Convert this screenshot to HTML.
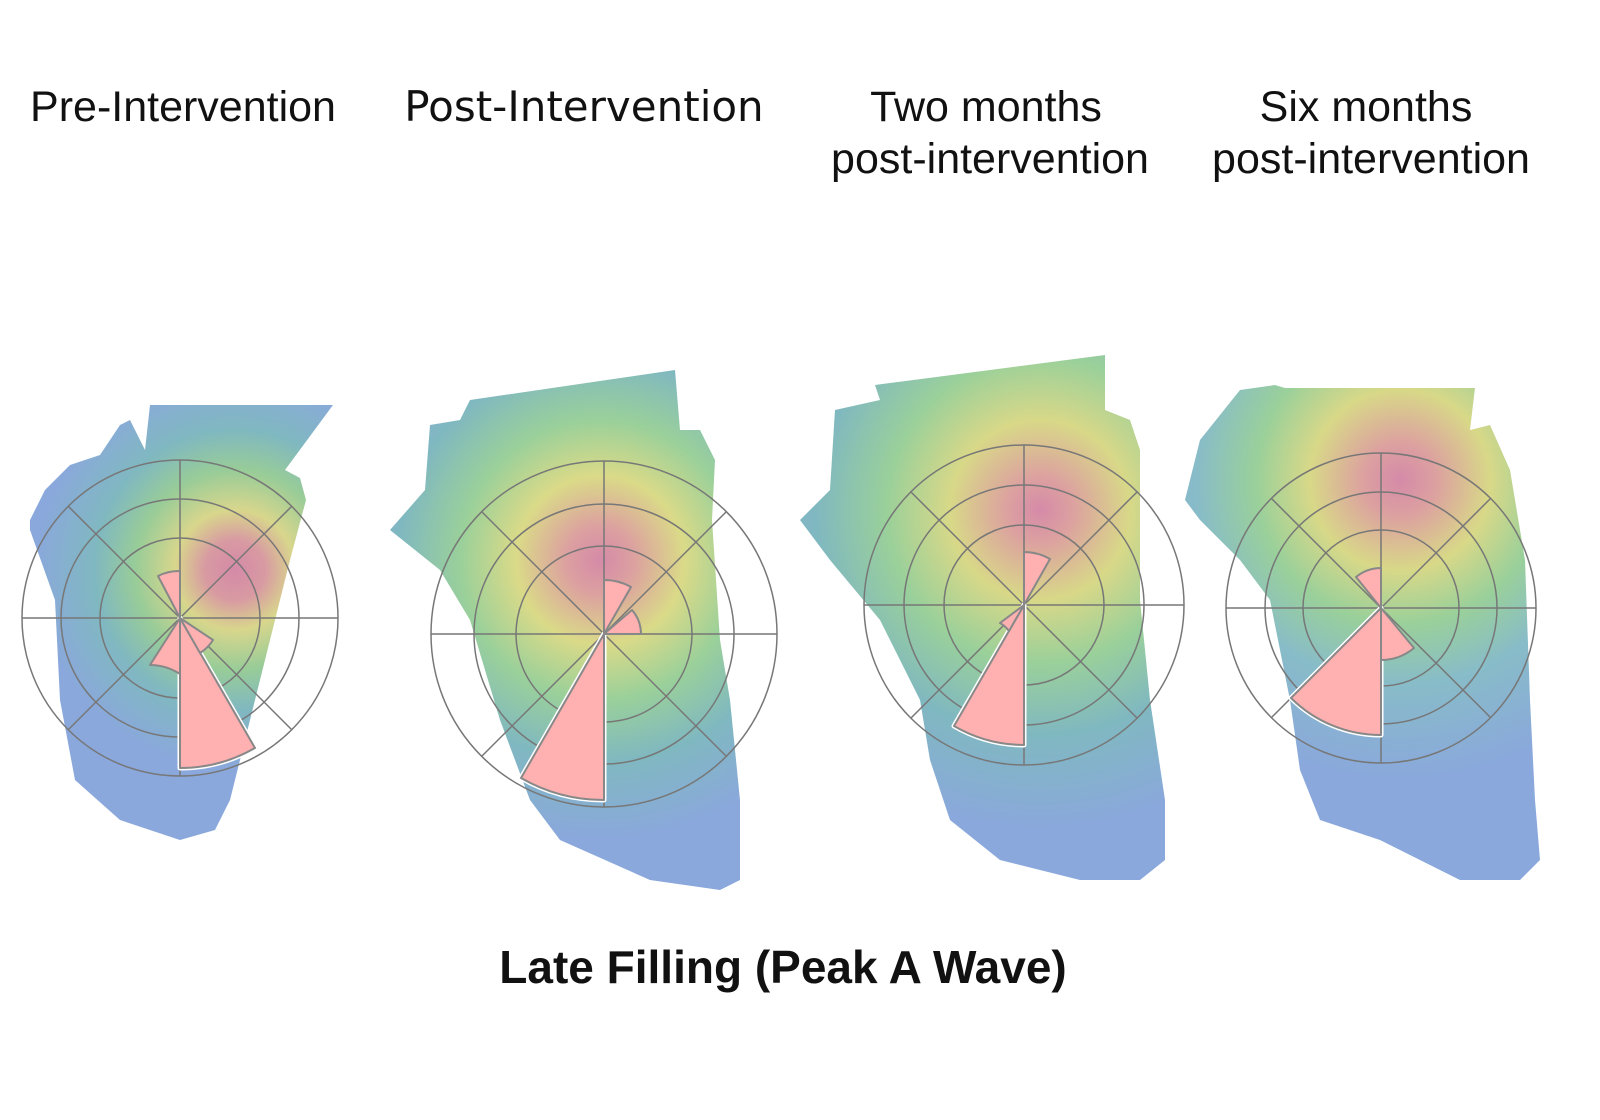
<!DOCTYPE html>
<html><head><meta charset="utf-8"><style>
html,body{margin:0;padding:0;background:#fff;width:1600px;height:1120px;overflow:hidden}
svg{display:block}
text{font-family:"Liberation Sans",sans-serif;fill:#111}
</style></head><body>
<svg width="1600" height="1120" viewBox="0 0 1600 1120" xmlns="http://www.w3.org/2000/svg">
<defs>
<radialGradient id="g1" cx="235" cy="570" r="200" gradientUnits="userSpaceOnUse">
<stop offset="0" stop-color="#d58aa8"/><stop offset="0.15" stop-color="#d89aa2"/><stop offset="0.3" stop-color="#d8d68c"/><stop offset="0.5" stop-color="#98cc98"/><stop offset="0.7" stop-color="#80b8c0"/><stop offset="1" stop-color="#8aa8dc"/></radialGradient>
<radialGradient id="g2" cx="600" cy="560" r="280" gradientUnits="userSpaceOnUse">
<stop offset="0" stop-color="#d58aa8"/><stop offset="0.12" stop-color="#dca0a0"/><stop offset="0.3" stop-color="#dada88"/><stop offset="0.5" stop-color="#9ad09a"/><stop offset="0.72" stop-color="#80b8c0"/><stop offset="1" stop-color="#8aa8dc"/></radialGradient>
<radialGradient id="g3" cx="1040" cy="510" r="320" gradientUnits="userSpaceOnUse">
<stop offset="0" stop-color="#d58aa8"/><stop offset="0.1" stop-color="#dca0a0"/><stop offset="0.28" stop-color="#d8d888"/><stop offset="0.48" stop-color="#9ad09a"/><stop offset="0.7" stop-color="#80b8c0"/><stop offset="1" stop-color="#8aa8dc"/></radialGradient>
<radialGradient id="g4" cx="1400" cy="480" r="300" gradientUnits="userSpaceOnUse">
<stop offset="0" stop-color="#d58aa8"/><stop offset="0.12" stop-color="#dca0a0"/><stop offset="0.3" stop-color="#d8d888"/><stop offset="0.48" stop-color="#9ad09a"/><stop offset="0.68" stop-color="#88bcc8"/><stop offset="1" stop-color="#8aa8dc"/></radialGradient>
</defs>

<text x="183" y="121" font-size="43" text-anchor="middle">Pre-Intervention</text>
<text x="584" y="121" font-size="42" text-anchor="middle" style="font-family:'DejaVu Sans',sans-serif">Post-Intervention</text>
<text x="986" y="121" font-size="43" text-anchor="middle">Two months</text>
<text x="990" y="173" font-size="43" text-anchor="middle">post-intervention</text>
<text x="1366" y="121" font-size="43" text-anchor="middle">Six months</text>
<text x="1371" y="173" font-size="43" text-anchor="middle">post-intervention</text>
<text x="783" y="983" font-size="46" font-weight="bold" text-anchor="middle">Late Filling (Peak A Wave)</text>

<path fill="url(#g1)" d="M30,520 L45,490 L70,465 L100,455 L120,425 L130,420 L145,450 L150,405 L333,405 L285,470 L300,478 L306,500 L290,560 L270,640 L250,720 L230,800 L215,830 L180,840 L120,820 L75,780 L60,700 L55,600 L30,530 Z"/>
<path fill="url(#g2)" d="M390,530 L425,490 L430,425 L460,420 L470,400 L675,370 L680,430 L700,430 L715,460 L712,520 L720,640 L730,700 L740,800 L740,880 L720,890 L650,880 L560,840 L530,800 L500,720 L470,620 L440,570 Z"/>
<path fill="url(#g3)" d="M800,520 L830,490 L835,410 L880,400 L875,385 L1105,355 L1105,410 L1130,420 L1140,450 L1140,600 L1150,700 L1165,800 L1165,860 L1140,880 L1080,880 L1000,860 L950,820 L930,760 L920,700 L880,620 L830,560 Z"/>
<path fill="url(#g4)" d="M1185,500 L1200,440 L1240,390 L1275,385 L1285,388 L1475,388 L1470,430 L1490,425 L1510,470 L1525,560 L1530,700 L1535,800 L1540,860 L1520,880 L1460,880 L1380,840 L1320,820 L1300,770 L1290,700 L1270,600 L1240,560 L1200,520 Z"/>

<g fill="none" stroke="#777" stroke-width="1.5">
<circle cx="180" cy="618" r="158"/><circle cx="180" cy="618" r="119"/><circle cx="180" cy="618" r="80"/>
<path d="M22,618H338M180,460V776M68,506L292,730M68,730L292,506"/>
<circle cx="604" cy="634" r="173"/><circle cx="604" cy="634" r="130"/><circle cx="604" cy="634" r="88"/>
<path d="M431,634H777M604,461V807M482,512L726,756M482,756L726,512"/>
<circle cx="1024" cy="605" r="160"/><circle cx="1024" cy="605" r="120"/><circle cx="1024" cy="605" r="80"/>
<path d="M864,605H1184M1024,445V765M911,492L1137,718M911,718L1137,492"/>
<circle cx="1381" cy="608" r="155"/><circle cx="1381" cy="608" r="116"/><circle cx="1381" cy="608" r="78"/>
<path d="M1226,608H1536M1381,453V763M1271,498L1491,718M1271,718L1491,498"/>
</g>

<g id="petals" fill="#ffb0b0" stroke-linejoin="round">
<g stroke="#fff" stroke-width="5">
<path d="M180,618 L180,768 A150,150 0 0 0 255,748 Z"/>
<path d="M604,634 L604,800 A166,166 0 0 1 521,778 Z"/>
<path d="M1024,605 L1024,745 A140,140 0 0 1 954,726 Z"/>
<path d="M1381,608 L1381,735 A127,127 0 0 1 1291,698 Z"/>
</g>
<g stroke="#888" stroke-width="2">
<path d="M180,618 L180,768 A150,150 0 0 0 255,748 Z"/>
<path d="M180,618 L158,576 A47,47 0 0 1 180,571 Z"/>
<path d="M180,618 L150,665 A56,56 0 0 1 180,674 Z"/>
<path d="M180,618 L213,640 A40,40 0 0 1 200,653 Z"/>
<path d="M604,634 L604,800 A166,166 0 0 1 521,778 Z"/>
<path d="M604,634 L604,580 A54,54 0 0 1 631,587 Z"/>
<path d="M604,634 L632,610 A37,37 0 0 1 641,634 Z"/>
<path d="M1024,605 L1024,745 A140,140 0 0 1 954,726 Z"/>
<path d="M1024,605 L1024,552 A53,53 0 0 1 1050,559 Z"/>
<path d="M1024,605 L1000,623 A30,30 0 0 1 1009,631 Z"/>
<path d="M1381,608 L1381,735 A127,127 0 0 1 1291,698 Z"/>
<path d="M1381,608 L1381,568 A40,40 0 0 0 1356,577 Z"/>
<path d="M1381,608 L1381,660 A52,52 0 0 0 1414,648 Z"/>
</g>
</g>
</svg>
</body></html>
